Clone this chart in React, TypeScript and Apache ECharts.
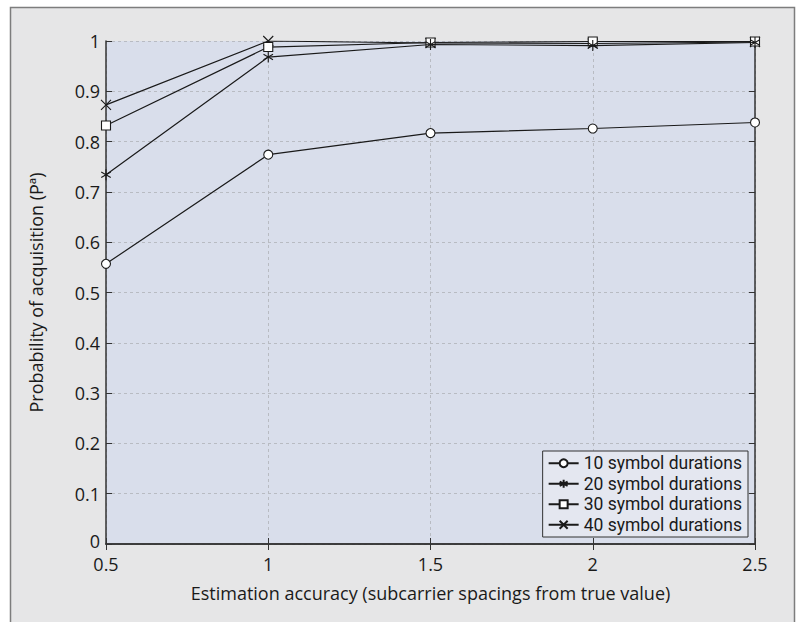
import React, { useEffect, useRef } from "react";
import * as echarts from "echarts";

const xValues = [0.5, 1, 1.5, 2, 2.5];
const seriesNames = [
  "10 symbol durations",
  "20 symbol durations",
  "30 symbol durations",
  "40 symbol durations",
];
const dur10 = [0.557, 0.774, 0.817, 0.826, 0.838];
const dur20 = [0.734, 0.968, 0.993, 0.991, 0.997];
const dur30 = [0.832, 0.988, 0.997, 0.999, 0.999];
const dur40 = [0.873, 1.0, 0.996, 0.995, 0.998];
const yTicks = [0, 0.1, 0.2, 0.3, 0.4, 0.5, 0.6, 0.7, 0.8, 0.9, 1];
const xTicks = [0.5, 1, 1.5, 2, 2.5];

const FONT = "'Open Sans', 'Noto Sans', sans-serif";
const LEGEND_FONT = "Roboto, 'Open Sans', sans-serif";

const ASTERISK = "path://M5,0L5,10M0.67,2.5L9.33,7.5M0.67,7.5L9.33,2.5";
const CROSS = "path://M0,0L10,10M0,10L10,0";

export default function App() {
  const ref = useRef<HTMLDivElement>(null);
  useEffect(() => {
    if (!ref.current) return;
    const chart = echarts.init(ref.current, null, { renderer: "svg" });
    const allValues = [dur10, dur20, dur30, dur40];
    const symbols = ["circle", ASTERISK, "rect", CROSS];
    const sizes = [9, 11, 9, 10];
    const series = allValues.map((vals, i) => ({
      name: seriesNames[i],
      type: "line",
      data: xValues.map((x, j) => [x, vals[j]]),
      symbol: symbols[i],
      symbolSize: sizes[i],
      symbolKeepAspect: true,
      showAllSymbol: true,
      lineStyle: { color: "#1a1a1a", width: 1.2 },
      itemStyle: {
        color: i === 0 || i === 2 ? "#ffffff" : "#1a1a1a",
        borderColor: "#1a1a1a",
        borderWidth: 1.1,
      },
      emphasis: { disabled: true },
      z: 5 - i,
    }));
    const fmt = (v: number) => {
      const ok = xTicks.concat(yTicks).some((t) => Math.abs(t - v) < 1e-9);
      if (!ok) return "";
      return String(Math.round(v * 10) / 10);
    };
    const yFmt = (v: number) => (Math.abs(v) < 1e-9 ? "{z|0}" : fmt(v));
    chart.setOption({
      animation: false,
      backgroundColor: "#ffffff",
      textStyle: { fontFamily: FONT },
      graphic: [
        {
          type: "rect",
          z: -10,
          shape: { x: 10.5, y: 7.5, width: 784, height: 640 },
          style: { fill: "#e6e6e7", stroke: "#7d7d7d", lineWidth: 1.5 },
          silent: true,
        },
      ],
      grid: {
        left: 106,
        top: 41,
        right: 42,
        bottom: 78,
        show: true,
        backgroundColor: "#d9deeb",
        borderWidth: 0,
      },
      legend: {
        orient: "vertical",
        right: 49,
        bottom: 85,
        data: seriesNames,
        backgroundColor: "#e4e7f0",
        borderColor: "#333333",
        borderWidth: 1,
        borderRadius: 0,
        padding: [2, 6, 2, 5],
        itemGap: 0,
        itemWidth: 30,
        itemHeight: 10,
        textStyle: {
          fontFamily: LEGEND_FONT,
          fontSize: 17.5,
          lineHeight: 20.5,
          color: "#1a1a1a",
        },
        selectedMode: false,
      },
      xAxis: [
        {
          type: "value",
          min: 0.5,
          max: 2.5,
          interval: 0.5,
          name: "Estimation accuracy (subcarrier spacings from true value)",
          nameLocation: "middle",
          nameGap: 40,
          nameTextStyle: { fontFamily: FONT, fontSize: 18, color: "#1a1a1a" },
          axisLine: { show: true, onZero: false, lineStyle: { color: "#333", width: 1.5 } },
          axisTick: { show: true, inside: true, length: 6, lineStyle: { color: "#333" } },
          axisLabel: {
            fontFamily: FONT,
            fontSize: 18,
            color: "#1a1a1a",
            margin: 11,
            formatter: fmt,
          },
          splitLine: {
            show: true,
            lineStyle: { color: "#b8bbc2", type: [3, 3], width: 1 },
          },
        },
        {
          type: "value",
          position: "top",
          min: 0.5,
          max: 2.5,
          interval: 0.5,
          axisLine: { show: true, lineStyle: { color: "#333", width: 1.5 } },
          axisTick: { show: true, inside: true, length: 6, lineStyle: { color: "#333" } },
          axisLabel: { show: false },
          splitLine: { show: false },
        },
      ],
      yAxis: [
        {
          type: "value",
          min: 0,
          max: 1,
          interval: 0.1,
          name: "Probability of acquisition (Pª)",
          nameLocation: "middle",
          nameGap: 61,
          nameTextStyle: { fontFamily: FONT, fontSize: 18, color: "#1a1a1a" },
          axisLine: { show: true, lineStyle: { color: "#333", width: 1.5 } },
          axisTick: { show: true, inside: true, length: 6, lineStyle: { color: "#333" } },
          axisLabel: {
            fontFamily: FONT,
            fontSize: 18,
            color: "#1a1a1a",
            margin: 6,
            formatter: yFmt,
            rich: {
              z: {
                fontFamily: FONT,
                fontSize: 18,
                color: "#1a1a1a",
                padding: [0, 0, 7, 0],
              },
            },
          },
          splitLine: {
            show: true,
            lineStyle: { color: "#b8bbc2", type: [3, 3], width: 1 },
          },
        },
        {
          type: "value",
          position: "right",
          min: 0,
          max: 1,
          interval: 0.1,
          axisLine: { show: true, lineStyle: { color: "#333", width: 1.5 } },
          axisTick: { show: true, inside: true, length: 6, lineStyle: { color: "#333" } },
          axisLabel: { show: false },
          splitLine: { show: false },
        },
      ],
      series,
    });
    return () => chart.dispose();
  }, []);
  return (
    <div
      ref={ref}
      style={{ position: "absolute", left: 0, top: 0, width: 797, height: 622 }}
    />
  );
}
